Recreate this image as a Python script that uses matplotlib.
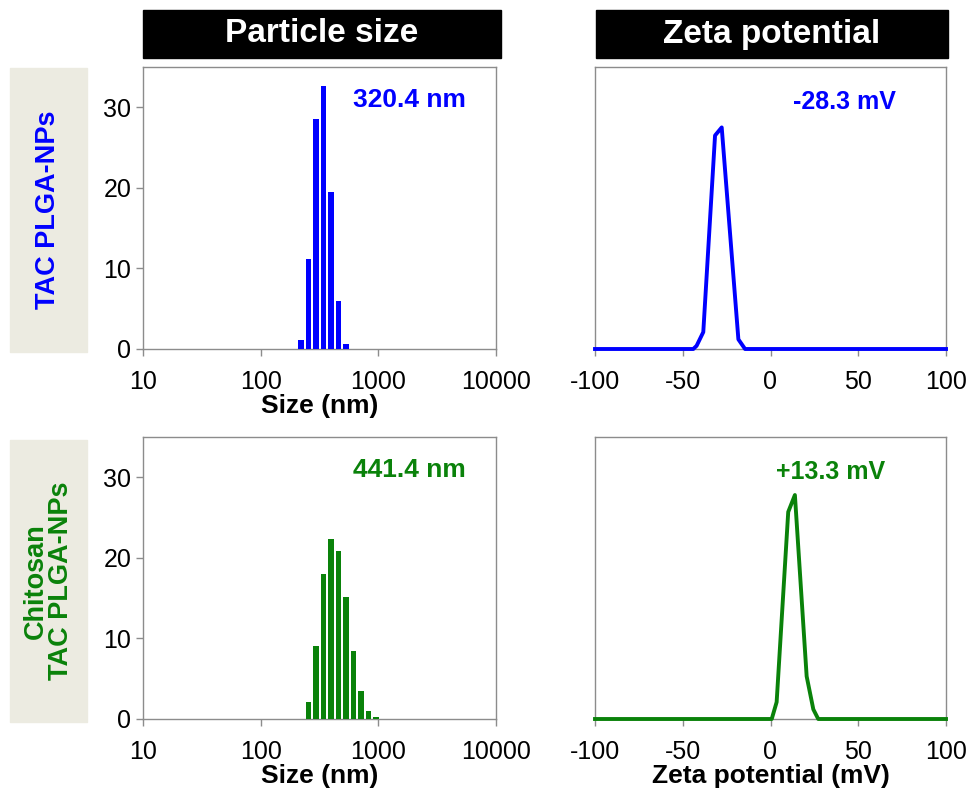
import matplotlib
matplotlib.use("Agg")
import matplotlib.pyplot as plt
from matplotlib.patches import Rectangle

plt.rcParams["font.family"] = ["Liberation Sans", "DejaVu Sans"]
plt.rcParams["axes.unicode_minus"] = False

# =============================================================================
# DATA
# =============================================================================

# size distribution (intensity %), DLS bin centres in nm
size_bins_tac = [220.2, 255.0, 295.3, 342.0, 396.1, 458.7, 531.2]
intensity_tac = [1.1, 11.2, 28.6, 32.7, 19.5, 6.0, 0.6]

size_bins_chi = [255.0, 295.3, 342.0, 396.1, 458.7, 531.2, 615.1, 712.4,
                 825.0, 955.4]
intensity_chi = [2.1, 9.1, 18.0, 22.4, 20.8, 15.2, 8.5, 3.5, 1.0, 0.2]

# zeta potential distribution
zeta_mv_tac = [-100, -44.0, -42.1, -38.3, -31.6, -27.8, -18.3, -14.5, 100]
zeta_cnt_tac = [0, 0, 0.4, 2.1, 26.5, 27.5, 1.2, 0, 0]

zeta_mv_chi = [-100, 0.7, 3.5, 10.1, 13.9, 20.6, 24.4, 27.2, 100]
zeta_cnt_chi = [0, 0, 2.1, 25.7, 27.8, 5.3, 1.2, 0, 0]

row_labels = ["TAC PLGA-NPs", "Chitosan\nTAC PLGA-NPs"]
col_titles = ["Particle size", "Zeta potential"]
size_notes = ["320.4 nm", "441.4 nm"]
zeta_notes = ["-28.3 mV", "+13.3 mV"]
colors = ["#0000ff", "#0a820a"]

size_ticks = [10, 100, 1000, 10000]
zeta_ticks = [-100, -50, 0, 50, 100]
y_ticks = [0, 10, 20, 30]

# =============================================================================
# FIGURE
# =============================================================================

fig = plt.figure(figsize=(9.68, 7.88), dpi=100)

W, H = 968.0, 788.0


def px_axes(x0, y0, x1, y1):
    return fig.add_axes([x0 / W, 1 - y1 / H, (x1 - x0) / W, (y1 - y0) / H])


def style_frame(ax):
    for sp in ax.spines.values():
        sp.set_color("#8c8c8c")
        sp.set_linewidth(1.0)
    ax.tick_params(colors="#8c8c8c", labelcolor="black", labelsize=18,
                   length=5, width=1.0, direction="out")
    ax.tick_params(which="minor", length=0)


rows = [
    (size_bins_tac, intensity_tac, zeta_mv_tac, zeta_cnt_tac),
    (size_bins_chi, intensity_chi, zeta_mv_chi, zeta_cnt_chi),
]
row_y = [(67, 349), (437, 719)]
log_w = 0.045  # bar width in decades

for i, (bins, inten, zmv, zcnt) in enumerate(rows):
    y0, y1 = row_y[i]
    c = colors[i]

    # particle size
    ax = px_axes(143, y0, 496, y1)
    lefts = [b * 10 ** (-log_w / 2) for b in bins]
    widths = [b * (10 ** (log_w / 2) - 10 ** (-log_w / 2)) for b in bins]
    ax.bar(lefts, inten, width=widths, align="edge", color=c, zorder=3)
    ax.set_xscale("log")
    ax.set_xlim(10, 10000)
    ax.set_ylim(0, 35)
    ax.set_xticks(size_ticks)
    ax.set_xticklabels([str(t) for t in size_ticks])
    ax.set_yticks(y_ticks)
    style_frame(ax)
    ax.tick_params(axis="x", pad=10)
    ax.set_xlabel("Size (nm)", fontsize=19, fontweight="bold", labelpad=0)
    ax.text(0.754, 0.883, size_notes[i], transform=ax.transAxes, color=c,
            fontsize=19, fontweight="bold", ha="center", va="center")

    # zeta potential
    az = px_axes(595, y0, 946, y1)
    az.plot(zmv, zcnt, color=c, lw=2.8, zorder=3, clip_on=False)
    az.set_xlim(-100, 100)
    az.set_ylim(0, 35)
    az.set_xticks(zeta_ticks)
    az.set_yticks([])
    style_frame(az)
    az.tick_params(axis="x", pad=10)
    if i == 1:
        az.set_xlabel("Zeta potential (mV)", fontsize=19, fontweight="bold",
                      labelpad=0)
    az.text(0.712 if i == 0 else 0.672, 0.875, zeta_notes[i],
            transform=az.transAxes, color=c, fontsize=18, fontweight="bold",
            ha="center", va="center")

    # row label box
    box_top, box_bot = (68, 352) if i == 0 else (440, 722)
    fig.patches.append(Rectangle((10 / W, 1 - box_bot / H), 77 / W,
                                 (box_bot - box_top) / H,
                                 transform=fig.transFigure,
                                 color="#ecebe1", zorder=0))
    fig.text(48.5 / W, 1 - (box_top + box_bot) / 2 / H, row_labels[i],
             rotation=90, ha="center", va="center", color=c, fontsize=19.5,
             fontweight="bold", linespacing=1.0, multialignment="center")

# column header boxes
for (x0, x1), title in zip([(143, 501), (596, 948)], col_titles):
    fig.patches.append(Rectangle((x0 / W, 1 - 58 / H), (x1 - x0) / W, 48 / H,
                                 transform=fig.transFigure, color="black",
                                 zorder=0))
    fig.text((x0 + x1) / 2 / W, 1 - 34 / H, title, ha="center", va="center",
             color="white", fontsize=24, fontweight="bold")

fig.savefig("out.png", dpi=100)
